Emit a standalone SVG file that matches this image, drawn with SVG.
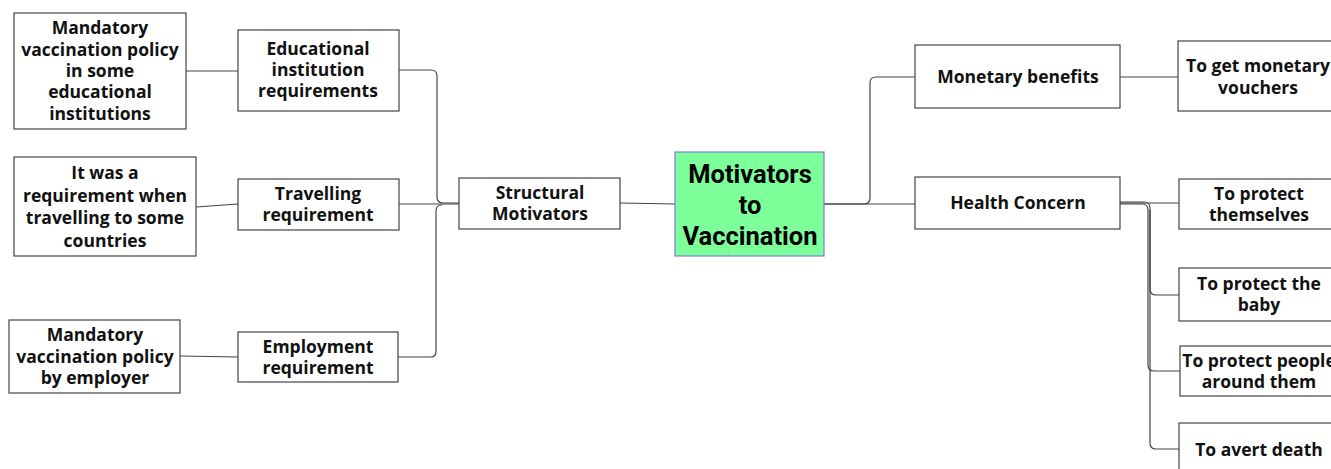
<svg xmlns="http://www.w3.org/2000/svg" width="1331" height="469" viewBox="0 0 1331 469">
<style>
.box{fill:#fff;stroke:#444;stroke-width:1.2}
.t{font-family:"Open Sans","Liberation Sans",sans-serif;font-weight:700;font-size:17.5px;fill:#111;text-anchor:middle}
.c{font-family:Roboto,"Liberation Sans",sans-serif;font-weight:700;font-size:25.5px;fill:#000;text-anchor:middle}
.ln{fill:none;stroke:#444;stroke-width:1.2}
</style>
<rect width="1331" height="469" fill="#fff"/>
<g id="connectors">
<path class="ln" d="M186 71 H238"/>
<path class="ln" d="M196 207 L238 204"/>
<path class="ln" d="M180 356 L238 357"/>
<path class="ln" d="M399 70 H431 Q437 70 437 76 V197 Q437 203 443 203 H459"/>
<path class="ln" d="M399 204 H459"/>
<path class="ln" d="M398 357 H431 Q436 357 436 351 V211 Q436 205 442 205"/>
<path class="ln" d="M620 203 L675 204"/>
<path class="ln" d="M824 204 H864 Q870 204 870 198 V83 Q870 77 876 77 H915"/>
<path class="ln" d="M824 204 H915"/>
<path class="ln" d="M1120 77 H1178"/>
<path class="ln" d="M1120 203 H1179"/>
<path class="ln" d="M1120 202 H1144 Q1150 202 1150 208 V289 Q1150 295 1156 295 H1179"/>
<path class="ln" d="M1120 204 H1142 Q1148 204 1148 210 V365 Q1148 371 1154 371 H1180"/>
<path class="ln" d="M1150 210 V443 Q1150 449 1156 449 H1179"/>
</g>
<g id="n-center">
<rect x="675" y="152" width="149" height="104" fill="#7dff9a" stroke="#7b7bdd" stroke-width="1.2"/>
<text class="c" x="750" y="183">Motivators</text>
<text class="c" x="750" y="214">to</text>
<text class="c" x="750" y="245">Vaccination</text>
</g>
<g id="n-structural">
<rect class="box" x="459" y="178" width="161" height="51"/>
<text class="t" x="540" y="199">Structural</text>
<text class="t" x="540" y="220">Motivators</text>
</g>
<g id="n-edu">
<rect class="box" x="238" y="30" width="161" height="81"/>
<text class="t" x="318" y="55">Educational</text>
<text class="t" x="318" y="76">institution</text>
<text class="t" x="318" y="97">requirements</text>
</g>
<g id="n-edu-leaf">
<rect class="box" x="14" y="13" width="172" height="116"/>
<text class="t" x="100" y="34">Mandatory</text>
<text class="t" x="100" y="56">vaccination policy</text>
<text class="t" x="100" y="77">in some</text>
<text class="t" x="100" y="98">educational</text>
<text class="t" x="100" y="120">institutions</text>
</g>
<g id="n-travel">
<rect class="box" x="238" y="179" width="161" height="51"/>
<text class="t" x="318" y="200">Travelling</text>
<text class="t" x="318" y="221">requirement</text>
</g>
<g id="n-travel-leaf">
<rect class="box" x="14" y="157" width="182" height="99"/>
<text class="t" x="105" y="179">It was a</text>
<text class="t" x="105" y="202">requirement when</text>
<text class="t" x="105" y="224">travelling to some</text>
<text class="t" x="105" y="247">countries</text>
</g>
<g id="n-employ">
<rect class="box" x="238" y="332" width="160" height="50"/>
<text class="t" x="318" y="353">Employment</text>
<text class="t" x="318" y="374">requirement</text>
</g>
<g id="n-employ-leaf">
<rect class="box" x="9" y="320" width="171" height="73"/>
<text class="t" x="95" y="341">Mandatory</text>
<text class="t" x="95" y="363">vaccination policy</text>
<text class="t" x="95" y="384">by employer</text>
</g>
<g id="n-monetary">
<rect class="box" x="915" y="45" width="205" height="63"/>
<text class="t" x="1018" y="83">Monetary benefits</text>
</g>
<g id="n-vouchers">
<rect class="box" x="1178" y="41" width="160" height="70"/>
<text class="t" x="1258" y="72">To get monetary</text>
<text class="t" x="1258" y="94">vouchers</text>
</g>
<g id="n-health">
<rect class="box" x="915" y="177" width="205" height="52"/>
<text class="t" x="1018" y="209">Health Concern</text>
</g>
<g id="n-themselves">
<rect class="box" x="1179" y="179" width="160" height="50"/>
<text class="t" x="1259" y="200">To protect</text>
<text class="t" x="1259" y="221">themselves</text>
</g>
<g id="n-baby">
<rect class="box" x="1179" y="268" width="160" height="53"/>
<text class="t" x="1259" y="290">To protect the</text>
<text class="t" x="1259" y="311">baby</text>
</g>
<g id="n-people">
<rect class="box" x="1180" y="346" width="160" height="50"/>
<text class="t" x="1259" y="367">To protect people</text>
<text class="t" x="1259" y="388">around them</text>
</g>
<g id="n-death">
<rect class="box" x="1179" y="423" width="160" height="60"/>
<text class="t" x="1259" y="456">To avert death</text>
</g>
</svg>
